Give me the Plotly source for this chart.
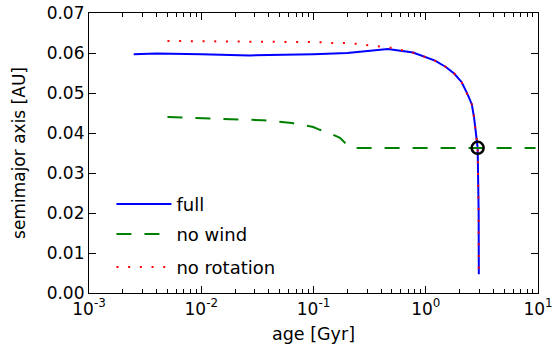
import plotly.graph_objects as go

# ---- data ----
full_age = [0.0025, 0.004, 0.01, 0.027, 0.1, 0.2, 0.46, 0.77, 1.21, 1.51, 1.80,
            2.09, 2.35, 2.57, 2.69, 2.84, 2.90, 2.96, 2.97]
full_a = [0.0597, 0.0599, 0.0597, 0.0594, 0.0597, 0.0600, 0.0610, 0.0601, 0.0581,
          0.0565, 0.0548, 0.0527, 0.0498, 0.0472, 0.0440, 0.0386, 0.0363, 0.0200, 0.0047]

nowind_age = [0.005, 0.0106, 0.0193, 0.035, 0.064, 0.0995, 0.114, 0.129, 0.172,
              0.211, 0.22, 9.5]
nowind_a = [0.0440, 0.0437, 0.0436, 0.0432, 0.0425, 0.0415, 0.0408, 0.0404, 0.0388,
            0.0363, 0.03625, 0.03625]

norot_age = [0.005, 0.02, 0.05, 0.091, 0.116, 0.147, 0.187, 0.24, 0.30, 0.38, 0.49,
             0.77, 1.21, 1.51, 1.80, 2.09, 2.35, 2.57, 2.69, 2.84, 2.90, 2.96, 2.97]
norot_a = [0.0630, 0.0629, 0.0628, 0.0627, 0.0627, 0.0625, 0.0625, 0.0623, 0.0620,
           0.0618, 0.0613, 0.0601, 0.0581, 0.0565, 0.0548, 0.0527, 0.0498, 0.0472,
           0.0440, 0.0386, 0.0363, 0.0200, 0.0047]

marker_age = [2.90]
marker_a = [0.0363]

x_tickvals = [1e-3, 1e-2, 1e-1, 1e0, 1e1]
x_ticktext = ["10<sup>-3</sup>", "10<sup>-2</sup>", "10<sup>-1</sup>",
              "10<sup>0</sup>", "10<sup>1</sup>"]
y_tickvals = [0.00, 0.01, 0.02, 0.03, 0.04, 0.05, 0.06, 0.07]

minor_vals = [m * 10 ** k for k in range(-3, 1) for m in range(2, 10)]

FONT = "DejaVu Sans"

fig = go.Figure()
fig.add_trace(go.Scatter(x=full_age, y=full_a, mode="lines", name="full",
                         line=dict(color="#0000ff", width=2), legend="legend"))
fig.add_trace(go.Scatter(x=nowind_age, y=nowind_a, mode="lines", name="no wind",
                         line=dict(color="#008000", width=2, dash="15px,13px"),
                         legend="legend2"))
fig.add_trace(go.Scatter(x=norot_age, y=norot_a, mode="lines", name="no rotation",
                         line=dict(color="#ff0000", width=2, dash="2px,9.7px"),
                         legend="legend3"))
fig.add_trace(go.Scatter(x=marker_age, y=marker_a, mode="markers", showlegend=False,
                         marker=dict(size=12, color="rgba(0,0,0,0)",
                                     line=dict(color="black", width=2.5))))

leg_common = dict(xanchor="left", yanchor="middle", bgcolor="rgba(0,0,0,0)",
                  font=dict(family=FONT, size=18, color="black"), itemwidth=55)

fig.update_layout(
    width=554, height=345,
    margin=dict(l=89, r=16, t=13, b=52),
    paper_bgcolor="white", plot_bgcolor="white",
    font=dict(family=FONT, size=17, color="black"),
    legend=dict(x=0.05, y=0.317, **leg_common),
    legend2=dict(x=0.05, y=0.210, **leg_common),
    legend3=dict(x=0.05, y=0.092, **leg_common),
    xaxis=dict(type="log", range=[-3, 1], tickvals=x_tickvals, ticktext=x_ticktext,
               automargin=False, ticklabeloverflow="allow",
               showgrid=False, zeroline=False, showline=True, linecolor="black",
               linewidth=1.2, mirror="allticks", ticks="inside", ticklen=7,
               tickcolor="black", tickwidth=1,
               minor=dict(tickvals=minor_vals, ticks="inside", ticklen=3.5,
                          tickcolor="black", tickwidth=1, showgrid=False),
               title=dict(text="age [Gyr]", standoff=10,
                          font=dict(family=FONT, size=17.5)),
               tickfont=dict(family=FONT, size=17)),
    yaxis=dict(range=[0, 0.07], tickvals=y_tickvals, tickformat=".2f",
               automargin=False, ticklabeloverflow="allow",
               showgrid=False, zeroline=False, showline=True, linecolor="black",
               linewidth=1.2, mirror="allticks", ticks="inside", ticklen=7,
               tickcolor="black", tickwidth=1,
               title=dict(text="semimajor axis [AU]", standoff=16,
                          font=dict(family=FONT, size=17)),
               tickfont=dict(family=FONT, size=17)),
)

# remove the browser's default 8px body margin so the figure fills the window
fig.write_html("out.html", config={"displayModeBar": False},
               post_script="document.body.style.margin='0px';")
